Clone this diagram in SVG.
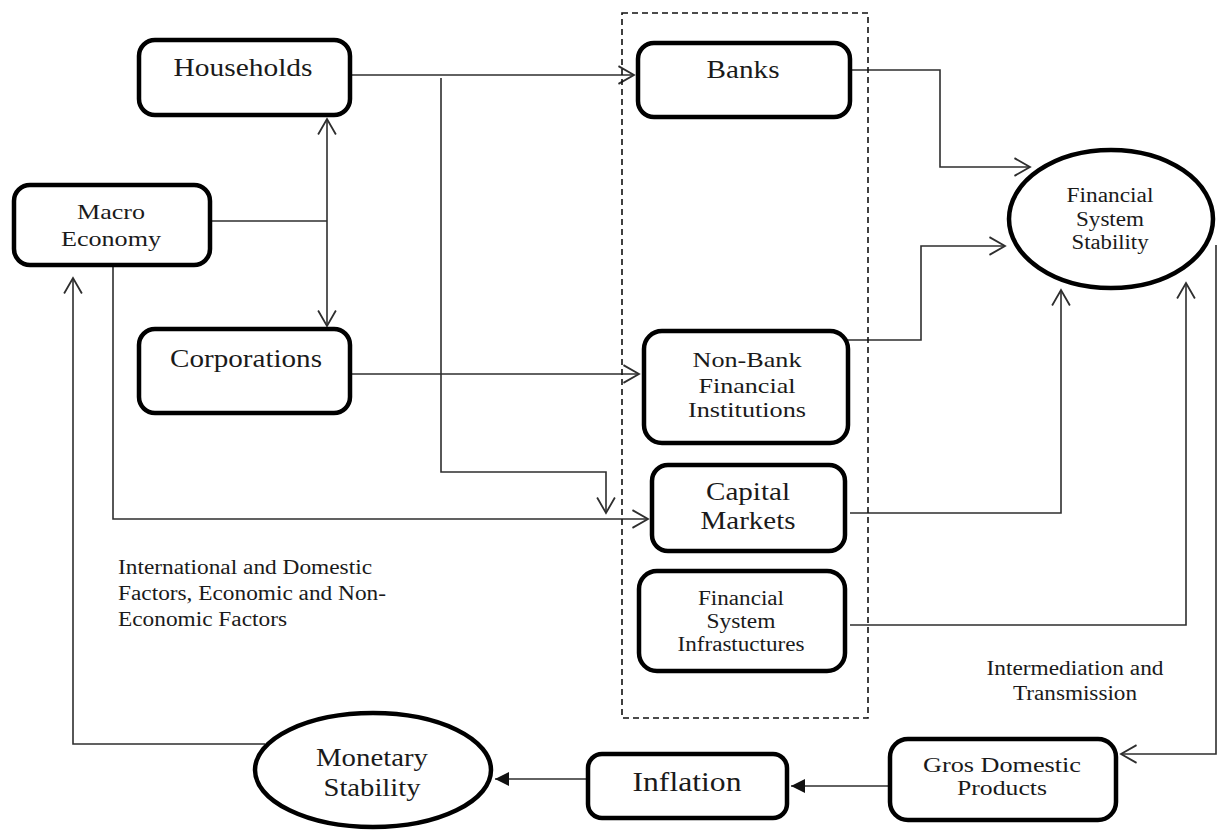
<svg xmlns="http://www.w3.org/2000/svg" width="1218" height="832" viewBox="0 0 1218 832">
<style>
.box{fill:#fff;stroke:#000;stroke-width:4.5}
.t{font-family:"Liberation Serif","Times New Roman",serif;fill:#1a1a1a;text-anchor:middle}
.tl{font-family:"Liberation Serif","Times New Roman",serif;fill:#1a1a1a}
.c{fill:none;stroke:#2e2e2e;stroke-width:1.6}
.dash{fill:none;stroke:#111;stroke-width:1.6;stroke-dasharray:6 4}
</style>
<defs>
<marker id="open" markerUnits="userSpaceOnUse" markerWidth="20" markerHeight="20" viewBox="0 0 16 18" refX="15" refY="9" orient="auto-start-reverse">
<path d="M1,1 L15,9 L1,17" fill="none" stroke="#2e2e2e" stroke-width="1.6"/>
</marker>
<marker id="fill" markerUnits="userSpaceOnUse" markerWidth="14" markerHeight="14" viewBox="0 0 12 12" refX="12" refY="6" orient="auto">
<path d="M0,0 L12,6 L0,12 Z" fill="#111"/>
</marker>
</defs>
<rect x="0" y="0" width="1218" height="832" fill="#fff"/>

<g id="connectors">
<path class="c" d="M352,75 H634" marker-end="url(#open)"/>
<path class="c" d="M441,78 V472 H606 V513" marker-end="url(#open)"/>
<path class="c" d="M212,221 H327"/>
<path class="c" d="M327,119 V326" marker-start="url(#open)" marker-end="url(#open)"/>
<path class="c" d="M352,374 H639" marker-end="url(#open)"/>
<path class="c" d="M113,267 V519 H648" marker-end="url(#open)"/>
<path class="c" d="M852,70 H940 V167 H1030" marker-end="url(#open)"/>
<path class="c" d="M835,340 H921 V246 H1005" marker-end="url(#open)"/>
<path class="c" d="M850,513 H1061 V290" marker-end="url(#open)"/>
<path class="c" d="M850,625 H1186 V283" marker-end="url(#open)"/>
<path class="c" d="M1216,245 V754 H1121" marker-end="url(#open)"/>
<path class="c" d="M888,786 H791" marker-end="url(#fill)"/>
<path class="c" d="M586,779 H495" marker-end="url(#fill)"/>
<path class="c" d="M265,744 H73 V278" marker-end="url(#open)"/>
</g>

<g id="group-financial-system">
<rect class="dash" x="622" y="13" width="246" height="705"/>
</g>

<g id="households">
<rect class="box" x="139" y="40" width="211" height="75" rx="16"/>
<text class="t" x="243" y="76" font-size="25" textLength="139" lengthAdjust="spacingAndGlyphs">Households</text>
</g>

<g id="macro-economy">
<rect class="box" x="14" y="185" width="196" height="80" rx="16"/>
<text class="t" x="111" y="219" font-size="21" textLength="68" lengthAdjust="spacingAndGlyphs">Macro</text>
<text class="t" x="111" y="246" font-size="21" textLength="100" lengthAdjust="spacingAndGlyphs">Economy</text>
</g>

<g id="corporations">
<rect class="box" x="139" y="329" width="211" height="84" rx="16"/>
<text class="t" x="246" y="367" font-size="25" textLength="152" lengthAdjust="spacingAndGlyphs">Corporations</text>
</g>

<g id="banks">
<rect class="box" x="638" y="43" width="212" height="74" rx="16"/>
<text class="t" x="743" y="78" font-size="25" textLength="73" lengthAdjust="spacingAndGlyphs">Banks</text>
</g>

<g id="non-bank">
<rect class="box" x="644" y="331" width="204" height="112" rx="18"/>
<text class="t" x="747" y="367" font-size="22" textLength="109" lengthAdjust="spacingAndGlyphs">Non-Bank</text>
<text class="t" x="747" y="393" font-size="22" textLength="97" lengthAdjust="spacingAndGlyphs">Financial</text>
<text class="t" x="747" y="417" font-size="22" textLength="118" lengthAdjust="spacingAndGlyphs">Institutions</text>
</g>

<g id="capital-markets">
<rect class="box" x="652" y="465" width="193" height="86" rx="16"/>
<text class="t" x="748" y="500" font-size="25" textLength="84" lengthAdjust="spacingAndGlyphs">Capital</text>
<text class="t" x="748" y="529" font-size="25" textLength="95" lengthAdjust="spacingAndGlyphs">Markets</text>
</g>

<g id="infrastructures">
<rect class="box" x="639" y="571" width="206" height="100" rx="18"/>
<text class="t" x="741" y="605" font-size="20" textLength="86" lengthAdjust="spacingAndGlyphs">Financial</text>
<text class="t" x="741" y="628" font-size="20" textLength="69" lengthAdjust="spacingAndGlyphs">System</text>
<text class="t" x="741" y="651" font-size="20" textLength="127" lengthAdjust="spacingAndGlyphs">Infrastuctures</text>
</g>

<g id="financial-system-stability">
<ellipse class="box" cx="1111" cy="219" rx="102" ry="69"/>
<text class="t" x="1110" y="202" font-size="20" textLength="87" lengthAdjust="spacingAndGlyphs">Financial</text>
<text class="t" x="1110" y="226" font-size="20" textLength="68" lengthAdjust="spacingAndGlyphs">System</text>
<text class="t" x="1110" y="249" font-size="20" textLength="77" lengthAdjust="spacingAndGlyphs">Stability</text>
</g>

<g id="gdp">
<rect class="box" x="890" y="739" width="226" height="81" rx="18"/>
<text class="t" x="1002" y="772" font-size="22" textLength="158" lengthAdjust="spacingAndGlyphs">Gros Domestic</text>
<text class="t" x="1002" y="795" font-size="22" textLength="90" lengthAdjust="spacingAndGlyphs">Products</text>
</g>

<g id="inflation">
<rect class="box" x="588" y="754" width="199" height="64" rx="14"/>
<text class="t" x="687" y="791" font-size="27" textLength="109" lengthAdjust="spacingAndGlyphs">Inflation</text>
</g>

<g id="monetary-stability">
<ellipse class="box" cx="373" cy="770" rx="118" ry="57"/>
<text class="t" x="372" y="766" font-size="25" textLength="112" lengthAdjust="spacingAndGlyphs">Monetary</text>
<text class="t" x="372" y="796" font-size="25" textLength="97" lengthAdjust="spacingAndGlyphs">Stability</text>
</g>

<g id="labels">
<text class="tl" x="118" y="574" font-size="20" textLength="254" lengthAdjust="spacingAndGlyphs">International and Domestic</text>
<text class="tl" x="118" y="600" font-size="20" textLength="268" lengthAdjust="spacingAndGlyphs">Factors, Economic and Non-</text>
<text class="tl" x="118" y="626" font-size="20" textLength="169" lengthAdjust="spacingAndGlyphs">Economic Factors</text>
<text class="t" x="1075" y="675" font-size="20" textLength="177" lengthAdjust="spacingAndGlyphs">Intermediation and</text>
<text class="t" x="1075" y="700" font-size="20" textLength="124" lengthAdjust="spacingAndGlyphs">Transmission</text>
</g>
</svg>
